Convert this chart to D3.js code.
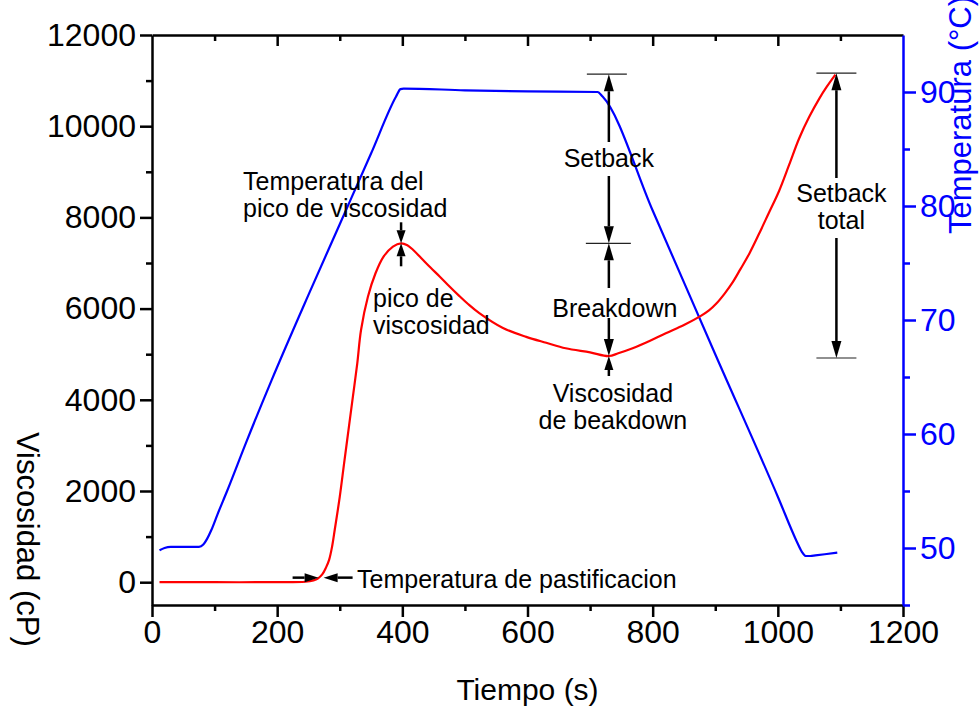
<!DOCTYPE html>
<html><head><meta charset="utf-8">
<script src="https://cdn.jsdelivr.net/npm/d3@7"></script>
<style>
body{margin:0;background:#fff}
svg{display:block}
text{font-family:Arial,"Liberation Sans",sans-serif}
</style>
</head><body>
<svg id="c" width="980" height="709"></svg>
<script>
// ---- data ----
const viscTime = [12,100,200,245,258,265,272,278,283,288,292,300,307,314,321,328,334,345,357,370,385,398,408,417,430,445,460,475,490,505,523,560,598,630,661,700,730,745,768,795,821,850,877,890,901,915,928,940,955,970,985,1002,1018,1034,1050,1066,1078,1092];
const viscosity = [0,0,0,10,40,80,170,320,490,800,1150,1870,2610,3340,4070,4800,5530,6260,6770,7140,7360,7432,7390,7290,7110,6900,6700,6490,6290,6100,5900,5580,5380,5250,5130,5040,4960,5020,5130,5290,5460,5640,5840,5960,6100,6330,6580,6860,7220,7640,8080,8580,9150,9730,10200,10600,10860,11130];
const tempTime = [12,20,30,50,75,82,88,95,105,120,150,191,250,300,350,390,397,402,500,600,712,720,800,900,1000,1030,1038,1045,1052,1060,1075,1095];
const temperature = [49.8,50.0,50.1,50.1,50.1,50.3,50.8,51.6,53.0,55.0,59.2,64.7,72.2,78.4,84.6,89.6,90.25,90.3,90.15,90.05,90.0,89.6,79.6,67.0,54.5,50.6,49.7,49.3,49.3,49.35,49.45,49.6];
const xTicks = [0,200,400,600,800,1000,1200];
const xMinor = [100,300,500,700,900,1100];
const yTicks = [0,2000,4000,6000,8000,10000,12000];
const yMinor = [1000,3000,5000,7000,9000,11000];
const tTicks = [50,60,70,80,90];
const tMinor = [45,55,65,75,85];
// key points
const peakTime = 398, peakVisc = 7432;
const troughTime = 730, troughVisc = 4960;
const finalTime = 1092, finalVisc = 11140;
const pastingTime = 271, pastingVisc = 100;

// ---- layout ----
const L = 152, R = 903, T = 35, B = 605;
const svg = d3.select("#c");
const x = d3.scaleLinear().domain([0,1200]).range([L,R]);
const y = d3.scaleLinear().domain([-500,12000]).range([B,T]);
const yt = d3.scaleLinear().domain([45,95]).range([B,T]);

const FS = 32;
function styleAxis(g, color){
  g.selectAll("path.domain").attr("stroke",color).attr("stroke-width",2.5);
  g.selectAll(".tick line").attr("stroke",color).attr("stroke-width",2.5);
  g.selectAll(".tick text").attr("fill",color).style("font-size",FS+"px").style("font-family","Arial, 'Liberation Sans', sans-serif");
}
// bottom
const gb = svg.append("g").attr("transform",`translate(0,${B})`)
  .call(d3.axisBottom(x).tickValues(xTicks).tickSize(12).tickSizeOuter(0).tickPadding(3).tickFormat(d3.format("d")));
styleAxis(gb,"#000");
const gbm = svg.append("g").attr("transform",`translate(0,${B})`)
  .call(d3.axisBottom(x).tickValues(xMinor).tickSize(6).tickFormat(""));
gbm.select("path.domain").remove(); styleAxis(gbm,"#000");
// top
const gt = svg.append("g").attr("transform",`translate(0,${T})`)
  .call(d3.axisTop(x).tickValues(xTicks.filter(d=>d>0&&d<1200)).tickSize(-11).tickSizeOuter(0).tickFormat(""));
styleAxis(gt,"#000");
const gtm = svg.append("g").attr("transform",`translate(0,${T})`)
  .call(d3.axisTop(x).tickValues(xMinor).tickSize(-6).tickFormat(""));
gtm.select("path.domain").remove(); styleAxis(gtm,"#000");
// left
const gl = svg.append("g").attr("transform",`translate(${L},0)`)
  .call(d3.axisLeft(y).tickValues(yTicks).tickSize(12).tickSizeOuter(0).tickPadding(4).tickFormat(d3.format("d")));
styleAxis(gl,"#000");
const glm = svg.append("g").attr("transform",`translate(${L},0)`)
  .call(d3.axisLeft(y).tickValues(yMinor).tickSize(6).tickFormat(""));
glm.select("path.domain").remove(); styleAxis(glm,"#000");
// right
const gr = svg.append("g").attr("transform",`translate(${R},0)`)
  .call(d3.axisRight(yt).tickValues(tTicks).tickSize(13).tickSizeOuter(0).tickPadding(4).tickFormat(d3.format("d")));
styleAxis(gr,"#0000FF");
const grm = svg.append("g").attr("transform",`translate(${R},0)`)
  .call(d3.axisRight(yt).tickValues(tMinor).tickSize(7).tickFormat(""));
grm.select("path.domain").remove(); styleAxis(grm,"#0000FF");

// axis titles
svg.append("text").attr("x",(L+R)/2).attr("y",700).attr("text-anchor","middle")
  .style("font-size","30px").text("Tiempo (s)");
svg.append("text").attr("transform","translate(17,432) rotate(90)").attr("text-anchor","start")
  .style("font-size","31px").text("Viscosidad (cP)");
svg.append("text").attr("transform","translate(971,234) rotate(-90)").attr("text-anchor","start")
  .attr("fill","#0000FF").style("font-size","31px").text("Temperatura (°C)");

// curves
const lineV = d3.line().x((d,i)=>x(viscTime[i])).y(d=>y(d)).curve(d3.curveCatmullRom.alpha(0.5));
const lineT = d3.line().x((d,i)=>x(tempTime[i])).y(d=>yt(d)).curve(d3.curveMonotoneX);
svg.append("path").attr("d",lineT(temperature)).attr("fill","none").attr("stroke","#0000FF").attr("stroke-width",2.2);
svg.append("path").attr("d",lineV(viscosity)).attr("fill","none").attr("stroke","#FF0000").attr("stroke-width",2.2);

// ---- annotations ----
const ann = svg.append("g");
function arrow(x1,y1,x2,y2,hl,hw){
  const dx=x2-x1, dy=y2-y1, len=Math.hypot(dx,dy), ux=dx/len, uy=dy/len;
  const bx=x2-ux*hl, by=y2-uy*hl;
  ann.append("line").attr("x1",x1).attr("y1",y1).attr("x2",bx).attr("y2",by)
    .attr("stroke","#000").attr("stroke-width",2.5);
  ann.append("path").attr("d",`M${x2},${y2}L${bx-uy*hw/2},${by+ux*hw/2}L${bx+uy*hw/2},${by-ux*hw/2}Z`).attr("fill","#000");
}
function hline(x1,x2,yy){
  ann.append("line").attr("x1",x1).attr("x2",x2).attr("y1",yy).attr("y2",yy).attr("stroke","#222").attr("stroke-width",1.2);
}
function label(tx,ty,lines,anchor){
  const t=ann.append("text").attr("x",tx).attr("y",ty).attr("text-anchor",anchor).style("font-size","25px");
  lines.forEach((s,i)=>t.append("tspan").attr("x",tx).attr("dy",i?27:0).text(s));
}
// pico de viscosidad
const px=x(peakTime), py=y(peakVisc);
arrow(px,py-21,px,py,13,9);
arrow(px,py+23,px,py,13,9);
label(243,190,["Temperatura del","pico de viscosidad"],"start");
label(373,307,["pico de","viscosidad"],"start");
// pastificacion
const qx=x(pastingTime), qy=y(pastingVisc);
arrow(qx-29,qy,qx-3,qy,14,9);
arrow(qx+31,qy,qx+2,qy,14,9);
label(357,588,["Temperatura de pastificacion"],"start");
// setback / breakdown
const sx=x(troughTime), sTop=y(finalVisc), sMid=y(peakVisc), sBot=y(troughVisc);
hline(sx-22,sx+18,sTop);
hline(sx-23,sx+22,sMid);
arrow(sx,142,sx,sTop,17,10);
arrow(sx,176,sx,sMid,17,10);
label(sx,167,["Setback"],"middle");
arrow(sx,288,sx,sMid,17,10);
arrow(sx,318,sx,sBot,17,10);
label(sx+6,317,["Breakdown"],"middle");
arrow(sx,sBot+20,sx,sBot,14,9);
label(sx+4,402,["Viscosidad","de beakdown"],"middle");
// setback total
const tx=x(finalTime)+1;
hline(tx-20,tx+20,y(finalVisc)-1);
hline(tx-20,tx+20,sBot+2);
arrow(tx,178,tx,y(finalVisc)-1,17,10);
arrow(tx,238,tx,sBot+2,17,10);
label(tx+5,202,["Setback","total"],"middle");
</script>
</body></html>
